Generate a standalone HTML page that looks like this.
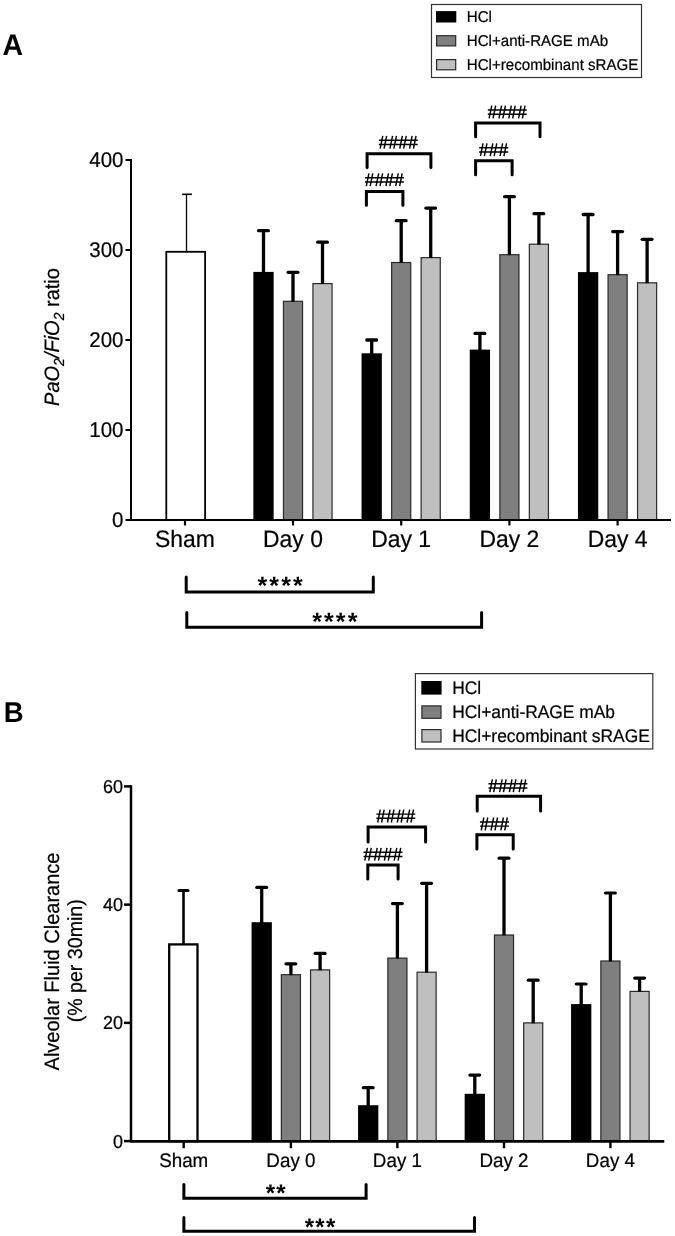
<!DOCTYPE html>
<html><head><meta charset="utf-8"><style>
html,body{margin:0;padding:0;background:#fff;}
svg{display:block;will-change:transform;}
text{font-family:"Liberation Sans", sans-serif;fill:#000;stroke:#000;stroke-width:0.22px;text-rendering:geometricPrecision;}
</style></head><body>
<svg width="675" height="1236" viewBox="0 0 675 1236">
<rect x="0" y="0" width="675" height="1236" fill="#fff"/>
<text transform="translate(185,547) scale(1,1.04)" font-size="22.9" text-anchor="middle" font-weight="normal" font-style="normal" >Sham</text>
<text transform="translate(293,547) scale(1,1.04)" font-size="22.9" text-anchor="middle" font-weight="normal" font-style="normal" >Day 0</text>
<text transform="translate(401.2,547) scale(1,1.04)" font-size="22.9" text-anchor="middle" font-weight="normal" font-style="normal" >Day 1</text>
<text transform="translate(509.4,547) scale(1,1.04)" font-size="22.9" text-anchor="middle" font-weight="normal" font-style="normal" >Day 2</text>
<text transform="translate(617.6,547) scale(1,1.04)" font-size="22.9" text-anchor="middle" font-weight="normal" font-style="normal" >Day 4</text>
<rect x="166.3" y="251.8" width="38.8" height="268.2" fill="#fff" stroke="#000" stroke-width="1.8"/>
<line x1="186.5" y1="251.8" x2="186.5" y2="194.3" stroke="#000" stroke-width="1.3" stroke-linecap="butt"/>
<line x1="182.2" y1="194.3" x2="191.9" y2="194.3" stroke="#000" stroke-width="1.6" stroke-linecap="butt"/>
<rect x="253.35" y="271.9" width="20.3" height="248.10000000000002" fill="#000" stroke="none" stroke-width="0"/>
<line x1="263.5" y1="272.9" x2="263.5" y2="230.7" stroke="#000" stroke-width="3.3" stroke-linecap="butt"/>
<line x1="258.65" y1="230.7" x2="268.35" y2="230.7" stroke="#000" stroke-width="3.3" stroke-linecap="round"/>
<rect x="283.45000000000005" y="301.3" width="19.1" height="218.70000000000002" fill="#7f7f7f" stroke="#2a2a2a" stroke-width="1.2"/>
<line x1="293.0" y1="301.7" x2="293.0" y2="272.3" stroke="#000" stroke-width="3.3" stroke-linecap="butt"/>
<line x1="288.15" y1="272.3" x2="297.85" y2="272.3" stroke="#000" stroke-width="3.3" stroke-linecap="round"/>
<rect x="312.95000000000005" y="283.6" width="19.1" height="236.4" fill="#bfbfbf" stroke="#2a2a2a" stroke-width="1.2"/>
<line x1="322.5" y1="284" x2="322.5" y2="242.2" stroke="#000" stroke-width="3.3" stroke-linecap="butt"/>
<line x1="317.65" y1="242.2" x2="327.35" y2="242.2" stroke="#000" stroke-width="3.3" stroke-linecap="round"/>
<rect x="361.55" y="353.3" width="20.3" height="166.7" fill="#000" stroke="none" stroke-width="0"/>
<line x1="371.7" y1="354.3" x2="371.7" y2="340" stroke="#000" stroke-width="3.3" stroke-linecap="butt"/>
<line x1="366.84999999999997" y1="340" x2="376.55" y2="340" stroke="#000" stroke-width="3.3" stroke-linecap="round"/>
<rect x="391.65000000000003" y="262.5" width="19.1" height="257.5" fill="#7f7f7f" stroke="#2a2a2a" stroke-width="1.2"/>
<line x1="401.2" y1="262.9" x2="401.2" y2="220.7" stroke="#000" stroke-width="3.3" stroke-linecap="butt"/>
<line x1="396.34999999999997" y1="220.7" x2="406.05" y2="220.7" stroke="#000" stroke-width="3.3" stroke-linecap="round"/>
<rect x="421.15000000000003" y="257.6" width="19.1" height="262.4" fill="#bfbfbf" stroke="#2a2a2a" stroke-width="1.2"/>
<line x1="430.7" y1="258" x2="430.7" y2="208.1" stroke="#000" stroke-width="3.3" stroke-linecap="butt"/>
<line x1="425.84999999999997" y1="208.1" x2="435.55" y2="208.1" stroke="#000" stroke-width="3.3" stroke-linecap="round"/>
<rect x="469.75" y="349.6" width="20.3" height="170.39999999999998" fill="#000" stroke="none" stroke-width="0"/>
<line x1="479.9" y1="350.6" x2="479.9" y2="333.4" stroke="#000" stroke-width="3.3" stroke-linecap="butt"/>
<line x1="475.04999999999995" y1="333.4" x2="484.75" y2="333.4" stroke="#000" stroke-width="3.3" stroke-linecap="round"/>
<rect x="499.85" y="254.7" width="19.1" height="265.29999999999995" fill="#7f7f7f" stroke="#2a2a2a" stroke-width="1.2"/>
<line x1="509.4" y1="255.1" x2="509.4" y2="196.7" stroke="#000" stroke-width="3.3" stroke-linecap="butt"/>
<line x1="504.54999999999995" y1="196.7" x2="514.25" y2="196.7" stroke="#000" stroke-width="3.3" stroke-linecap="round"/>
<rect x="529.35" y="244.2" width="19.1" height="275.79999999999995" fill="#bfbfbf" stroke="#2a2a2a" stroke-width="1.2"/>
<line x1="538.9" y1="244.6" x2="538.9" y2="213.7" stroke="#000" stroke-width="3.3" stroke-linecap="butt"/>
<line x1="534.05" y1="213.7" x2="543.75" y2="213.7" stroke="#000" stroke-width="3.3" stroke-linecap="round"/>
<rect x="577.95" y="272.1" width="20.3" height="247.89999999999998" fill="#000" stroke="none" stroke-width="0"/>
<line x1="588.1" y1="273.1" x2="588.1" y2="214.5" stroke="#000" stroke-width="3.3" stroke-linecap="butt"/>
<line x1="583.25" y1="214.5" x2="592.95" y2="214.5" stroke="#000" stroke-width="3.3" stroke-linecap="round"/>
<rect x="608.0500000000001" y="274.70000000000005" width="19.1" height="245.29999999999998" fill="#7f7f7f" stroke="#2a2a2a" stroke-width="1.2"/>
<line x1="617.6" y1="275.1" x2="617.6" y2="231.6" stroke="#000" stroke-width="3.3" stroke-linecap="butt"/>
<line x1="612.75" y1="231.6" x2="622.45" y2="231.6" stroke="#000" stroke-width="3.3" stroke-linecap="round"/>
<rect x="637.5500000000001" y="282.8" width="19.1" height="237.20000000000002" fill="#bfbfbf" stroke="#2a2a2a" stroke-width="1.2"/>
<line x1="647.1" y1="283.2" x2="647.1" y2="239.3" stroke="#000" stroke-width="3.3" stroke-linecap="butt"/>
<line x1="642.25" y1="239.3" x2="651.95" y2="239.3" stroke="#000" stroke-width="3.3" stroke-linecap="round"/>
<path d="M367.1 167.4 L367.1 153.8 L430.9 153.8 L430.9 167.4" fill="none" stroke="#000" stroke-width="3.0" stroke-linecap="round" stroke-linejoin="miter"/>
<path d="M382.75 135.80L380.15 148.60M386.65 135.80L384.05 148.60M392.55 135.80L389.95 148.60M396.45 135.80L393.85 148.60M402.35 135.80L399.75 148.60M406.25 135.80L403.65 148.60M412.15 135.80L409.55 148.60M416.05 135.80L413.45 148.60M378.85 140.20L417.75 140.20M378.85 144.40L417.75 144.40" fill="none" stroke="#000" stroke-width="1.45" stroke-linecap="butt" stroke-linejoin="miter"/>
<path d="M366.4 205.2 L366.4 191.4 L402.9 191.4 L402.9 205.2" fill="none" stroke="#000" stroke-width="3.0" stroke-linecap="round" stroke-linejoin="miter"/>
<path d="M368.90 173.30L366.30 186.10M372.80 173.30L370.20 186.10M378.70 173.30L376.10 186.10M382.60 173.30L380.00 186.10M388.50 173.30L385.90 186.10M392.40 173.30L389.80 186.10M398.30 173.30L395.70 186.10M402.20 173.30L399.60 186.10M365.00 177.70L403.90 177.70M365.00 181.90L403.90 181.90" fill="none" stroke="#000" stroke-width="1.45" stroke-linecap="butt" stroke-linejoin="miter"/>
<path d="M475.6 136.7 L475.6 123 L540 123 L540 136.7" fill="none" stroke="#000" stroke-width="3.0" stroke-linecap="round" stroke-linejoin="miter"/>
<path d="M491.75 105.60L489.15 118.40M495.65 105.60L493.05 118.40M501.55 105.60L498.95 118.40M505.45 105.60L502.85 118.40M511.35 105.60L508.75 118.40M515.25 105.60L512.65 118.40M521.15 105.60L518.55 118.40M525.05 105.60L522.45 118.40M487.85 110.00L526.75 110.00M487.85 114.20L526.75 114.20" fill="none" stroke="#000" stroke-width="1.45" stroke-linecap="butt" stroke-linejoin="miter"/>
<path d="M475.6 174.8 L475.6 160.7 L512.1 160.7 L512.1 174.8" fill="none" stroke="#000" stroke-width="3.0" stroke-linecap="round" stroke-linejoin="miter"/>
<path d="M483.05 143.40L480.45 156.20M486.95 143.40L484.35 156.20M492.85 143.40L490.25 156.20M496.75 143.40L494.15 156.20M502.65 143.40L500.05 156.20M506.55 143.40L503.95 156.20M479.15 147.80L508.25 147.80M479.15 152.00L508.25 152.00" fill="none" stroke="#000" stroke-width="1.45" stroke-linecap="butt" stroke-linejoin="miter"/>
<path d="M186.2 577 L186.2 592 L373.3 592 L373.3 577" fill="none" stroke="#000" stroke-width="3.0" stroke-linecap="round" stroke-linejoin="miter"/>
<text transform="translate(281.2,594.1) scale(1,1)" font-size="25" text-anchor="middle" font-weight="bold" font-style="normal" letter-spacing="2.1" style="stroke:none">****</text>
<path d="M186.8 612.4 L186.8 627.2 L481.6 627.2 L481.6 612.4" fill="none" stroke="#000" stroke-width="3.0" stroke-linecap="round" stroke-linejoin="miter"/>
<text transform="translate(335.8,630.1) scale(1,1)" font-size="25" text-anchor="middle" font-weight="bold" font-style="normal" letter-spacing="2.1" style="stroke:none">****</text>
<text transform="translate(59,337) rotate(-90) scale(1,1.04)" font-size="20" text-anchor="middle"><tspan font-style="italic">PaO</tspan><tspan font-size="14" dy="5" font-style="italic">2</tspan><tspan dy="-5" font-style="italic">/FiO</tspan><tspan font-size="14" dy="5" font-style="italic">2</tspan><tspan dy="-5"> ratio</tspan></text>
<rect x="431.5" y="4.5" width="210" height="73" fill="#fff" stroke="#333" stroke-width="1.2"/>
<rect x="436" y="11.1" width="20.3" height="11.4" fill="#000" stroke="none" stroke-width="0"/>
<text transform="translate(466.8,22.1) scale(1,1.04)" font-size="15.1" text-anchor="start" font-weight="normal" font-style="normal" >HCl</text>
<rect x="436.6" y="35.7" width="19.1" height="10.2" fill="#7f7f7f" stroke="#2a2a2a" stroke-width="1.2"/>
<text transform="translate(466.8,46.1) scale(1,1.04)" font-size="15.1" text-anchor="start" font-weight="normal" font-style="normal" >HCl+anti-RAGE mAb</text>
<rect x="436.6" y="59.6" width="19.1" height="10.2" fill="#bfbfbf" stroke="#2a2a2a" stroke-width="1.2"/>
<text transform="translate(466.8,70) scale(1,1.04)" font-size="15.1" text-anchor="start" font-weight="normal" font-style="normal" >HCl+recombinant sRAGE</text>
<text transform="translate(2.5,55) scale(1,1.04)" font-size="28.5" text-anchor="start" font-weight="bold" font-style="normal" style="stroke:none">A</text>
<text transform="translate(183.7,1167) scale(1,1.04)" font-size="18.8" text-anchor="middle" font-weight="normal" font-style="normal" >Sham</text>
<text transform="translate(290.9,1167) scale(1,1.04)" font-size="18.8" text-anchor="middle" font-weight="normal" font-style="normal" >Day 0</text>
<text transform="translate(397.4,1167) scale(1,1.04)" font-size="18.8" text-anchor="middle" font-weight="normal" font-style="normal" >Day 1</text>
<text transform="translate(504,1167) scale(1,1.04)" font-size="18.8" text-anchor="middle" font-weight="normal" font-style="normal" >Day 2</text>
<text transform="translate(610.4,1167) scale(1,1.04)" font-size="18.8" text-anchor="middle" font-weight="normal" font-style="normal" >Day 4</text>
<rect x="169.2" y="944.4" width="28.3" height="196.69999999999993" fill="#fff" stroke="#000" stroke-width="2.3"/>
<line x1="183.5" y1="944.4" x2="183.5" y2="890.4" stroke="#000" stroke-width="2.6" stroke-linecap="butt"/>
<line x1="179" y1="890.4" x2="188" y2="890.4" stroke="#000" stroke-width="3" stroke-linecap="round"/>
<rect x="251.54999999999998" y="922.2" width="20.3" height="218.89999999999986" fill="#000" stroke="none" stroke-width="0"/>
<line x1="261.7" y1="923.2" x2="261.7" y2="887.4" stroke="#000" stroke-width="3.3" stroke-linecap="butt"/>
<line x1="256.8" y1="887.4" x2="266.59999999999997" y2="887.4" stroke="#000" stroke-width="3.2" stroke-linecap="round"/>
<rect x="281.35" y="974.7" width="19.1" height="166.3999999999999" fill="#7f7f7f" stroke="#2a2a2a" stroke-width="1.2"/>
<line x1="290.9" y1="975.1" x2="290.9" y2="963.8" stroke="#000" stroke-width="3.3" stroke-linecap="butt"/>
<line x1="286.0" y1="963.8" x2="295.79999999999995" y2="963.8" stroke="#000" stroke-width="3.2" stroke-linecap="round"/>
<rect x="310.55" y="969.9" width="19.1" height="171.19999999999996" fill="#bfbfbf" stroke="#2a2a2a" stroke-width="1.2"/>
<line x1="320.09999999999997" y1="970.3" x2="320.09999999999997" y2="953.4" stroke="#000" stroke-width="3.3" stroke-linecap="butt"/>
<line x1="315.2" y1="953.4" x2="324.99999999999994" y2="953.4" stroke="#000" stroke-width="3.2" stroke-linecap="round"/>
<rect x="358.05" y="1105.2" width="20.3" height="35.899999999999864" fill="#000" stroke="none" stroke-width="0"/>
<line x1="368.2" y1="1106.2" x2="368.2" y2="1087.7" stroke="#000" stroke-width="3.3" stroke-linecap="butt"/>
<line x1="363.3" y1="1087.7" x2="373.09999999999997" y2="1087.7" stroke="#000" stroke-width="3.2" stroke-linecap="round"/>
<rect x="387.85" y="958.1" width="19.1" height="182.99999999999991" fill="#7f7f7f" stroke="#2a2a2a" stroke-width="1.2"/>
<line x1="397.4" y1="958.5" x2="397.4" y2="903.6" stroke="#000" stroke-width="3.3" stroke-linecap="butt"/>
<line x1="392.5" y1="903.6" x2="402.29999999999995" y2="903.6" stroke="#000" stroke-width="3.2" stroke-linecap="round"/>
<rect x="417.05" y="972.2" width="19.1" height="168.8999999999999" fill="#bfbfbf" stroke="#2a2a2a" stroke-width="1.2"/>
<line x1="426.59999999999997" y1="972.6" x2="426.59999999999997" y2="883.3" stroke="#000" stroke-width="3.3" stroke-linecap="butt"/>
<line x1="421.7" y1="883.3" x2="431.49999999999994" y2="883.3" stroke="#000" stroke-width="3.2" stroke-linecap="round"/>
<rect x="464.65000000000003" y="1093.8" width="20.3" height="47.299999999999955" fill="#000" stroke="none" stroke-width="0"/>
<line x1="474.8" y1="1094.8" x2="474.8" y2="1075.1" stroke="#000" stroke-width="3.3" stroke-linecap="butt"/>
<line x1="469.90000000000003" y1="1075.1" x2="479.7" y2="1075.1" stroke="#000" stroke-width="3.2" stroke-linecap="round"/>
<rect x="494.45000000000005" y="935.0" width="19.1" height="206.09999999999994" fill="#7f7f7f" stroke="#2a2a2a" stroke-width="1.2"/>
<line x1="504.0" y1="935.4" x2="504.0" y2="858.2" stroke="#000" stroke-width="3.3" stroke-linecap="butt"/>
<line x1="499.1" y1="858.2" x2="508.9" y2="858.2" stroke="#000" stroke-width="3.2" stroke-linecap="round"/>
<rect x="523.6500000000001" y="1022.9" width="19.1" height="118.19999999999996" fill="#bfbfbf" stroke="#2a2a2a" stroke-width="1.2"/>
<line x1="533.2" y1="1023.3" x2="533.2" y2="980.2" stroke="#000" stroke-width="3.3" stroke-linecap="butt"/>
<line x1="528.3000000000001" y1="980.2" x2="538.1" y2="980.2" stroke="#000" stroke-width="3.2" stroke-linecap="round"/>
<rect x="571.05" y="1004.1" width="20.3" height="136.9999999999999" fill="#000" stroke="none" stroke-width="0"/>
<line x1="581.1999999999999" y1="1005.1" x2="581.1999999999999" y2="984" stroke="#000" stroke-width="3.3" stroke-linecap="butt"/>
<line x1="576.3" y1="984" x2="586.0999999999999" y2="984" stroke="#000" stroke-width="3.2" stroke-linecap="round"/>
<rect x="600.85" y="961.0" width="19.1" height="180.09999999999994" fill="#7f7f7f" stroke="#2a2a2a" stroke-width="1.2"/>
<line x1="610.4" y1="961.4" x2="610.4" y2="893" stroke="#000" stroke-width="3.3" stroke-linecap="butt"/>
<line x1="605.5" y1="893" x2="615.3" y2="893" stroke="#000" stroke-width="3.2" stroke-linecap="round"/>
<rect x="630.0500000000001" y="991.4" width="19.1" height="149.69999999999996" fill="#bfbfbf" stroke="#2a2a2a" stroke-width="1.2"/>
<line x1="639.6" y1="991.8" x2="639.6" y2="978.1" stroke="#000" stroke-width="3.3" stroke-linecap="butt"/>
<line x1="634.7" y1="978.1" x2="644.5" y2="978.1" stroke="#000" stroke-width="3.2" stroke-linecap="round"/>
<path d="M368.1 841.9 L368.1 827 L425.6 827 L425.6 841.9" fill="none" stroke="#000" stroke-width="3.0" stroke-linecap="round" stroke-linejoin="miter"/>
<path d="M380.25 809.70L377.65 822.50M384.15 809.70L381.55 822.50M390.05 809.70L387.45 822.50M393.95 809.70L391.35 822.50M399.85 809.70L397.25 822.50M403.75 809.70L401.15 822.50M409.65 809.70L407.05 822.50M413.55 809.70L410.95 822.50M376.35 814.10L415.25 814.10M376.35 818.30L415.25 818.30" fill="none" stroke="#000" stroke-width="1.45" stroke-linecap="butt" stroke-linejoin="miter"/>
<path d="M367.8 878.9 L367.8 865.1 L398.1 865.1 L398.1 878.9" fill="none" stroke="#000" stroke-width="3.0" stroke-linecap="round" stroke-linejoin="miter"/>
<path d="M367.40 847.80L364.80 860.60M371.30 847.80L368.70 860.60M377.20 847.80L374.60 860.60M381.10 847.80L378.50 860.60M387.00 847.80L384.40 860.60M390.90 847.80L388.30 860.60M396.80 847.80L394.20 860.60M400.70 847.80L398.10 860.60M363.50 852.20L402.40 852.20M363.50 856.40L402.40 856.40" fill="none" stroke="#000" stroke-width="1.45" stroke-linecap="butt" stroke-linejoin="miter"/>
<path d="M477.2 811.1 L477.2 796.3 L540.6 796.3 L540.6 811.1" fill="none" stroke="#000" stroke-width="3.0" stroke-linecap="round" stroke-linejoin="miter"/>
<path d="M492.40 779.30L489.80 792.10M496.30 779.30L493.70 792.10M502.20 779.30L499.60 792.10M506.10 779.30L503.50 792.10M512.00 779.30L509.40 792.10M515.90 779.30L513.30 792.10M521.80 779.30L519.20 792.10M525.70 779.30L523.10 792.10M488.50 783.70L527.40 783.70M488.50 787.90L527.40 787.90" fill="none" stroke="#000" stroke-width="1.45" stroke-linecap="butt" stroke-linejoin="miter"/>
<path d="M476.9 848.9 L476.9 834.8 L513.2 834.8 L513.2 848.9" fill="none" stroke="#000" stroke-width="3.0" stroke-linecap="round" stroke-linejoin="miter"/>
<path d="M483.85 817.50L481.25 830.30M487.75 817.50L485.15 830.30M493.65 817.50L491.05 830.30M497.55 817.50L494.95 830.30M503.45 817.50L500.85 830.30M507.35 817.50L504.75 830.30M479.95 821.90L509.05 821.90M479.95 826.10L509.05 826.10" fill="none" stroke="#000" stroke-width="1.45" stroke-linecap="butt" stroke-linejoin="miter"/>
<path d="M183.9 1184.6 L183.9 1198.3 L366.1 1198.3 L366.1 1184.6" fill="none" stroke="#000" stroke-width="3.0" stroke-linecap="round" stroke-linejoin="miter"/>
<text transform="translate(276.3,1201.2) scale(1,1)" font-size="24" text-anchor="middle" font-weight="bold" font-style="normal" letter-spacing="1.3" style="stroke:none">**</text>
<path d="M183.9 1217.4 L183.9 1231.3 L474.5 1231.3 L474.5 1217.4" fill="none" stroke="#000" stroke-width="3.0" stroke-linecap="round" stroke-linejoin="miter"/>
<text transform="translate(320.6,1234.7) scale(1,1)" font-size="24" text-anchor="middle" font-weight="bold" font-style="normal" letter-spacing="1.3" style="stroke:none">***</text>
<text transform="translate(59,961.5) rotate(-90) scale(1,1.04)" font-size="20" text-anchor="middle">Alveolar Fluid Clearance</text>
<text transform="translate(81.8,960.8) rotate(-90) scale(1,1.04)" font-size="19.6" text-anchor="middle">(% per 30min)</text>
<rect x="415.4" y="673.6" width="237.4" height="75.4" fill="#fff" stroke="#333" stroke-width="1.2"/>
<rect x="421.3" y="681" width="20.3" height="13.6" fill="#000" stroke="none" stroke-width="0"/>
<text transform="translate(452.2,693.9) scale(1,1.04)" font-size="17.4" text-anchor="start" font-weight="normal" font-style="normal" >HCl</text>
<rect x="421.9" y="705.9" width="19.1" height="12.4" fill="#7f7f7f" stroke="#2a2a2a" stroke-width="1.2"/>
<text transform="translate(452.2,718.1999999999999) scale(1,1.04)" font-size="17.4" text-anchor="start" font-weight="normal" font-style="normal" >HCl+anti-RAGE mAb</text>
<rect x="421.9" y="729.6" width="19.1" height="12.4" fill="#bfbfbf" stroke="#2a2a2a" stroke-width="1.2"/>
<text transform="translate(452.2,741.9) scale(1,1.04)" font-size="17.4" text-anchor="start" font-weight="normal" font-style="normal" >HCl+recombinant sRAGE</text>
<text transform="translate(3.8,722.2) scale(1,1.04)" font-size="27.5" text-anchor="start" font-weight="bold" font-style="normal" style="stroke:none">B</text>
<line x1="131" y1="159.0" x2="131" y2="521" stroke="#000" stroke-width="2" stroke-linecap="butt"/>
<line x1="125.5" y1="520.0" x2="131" y2="520.0" stroke="#000" stroke-width="2" stroke-linecap="butt"/>
<text transform="translate(123.5,527.3) scale(1,1.04)" font-size="20.5" text-anchor="end" font-weight="normal" font-style="normal" >0</text>
<line x1="125.5" y1="430.0" x2="131" y2="430.0" stroke="#000" stroke-width="2" stroke-linecap="butt"/>
<text transform="translate(123.5,437.3) scale(1,1.04)" font-size="20.5" text-anchor="end" font-weight="normal" font-style="normal" >100</text>
<line x1="125.5" y1="340.0" x2="131" y2="340.0" stroke="#000" stroke-width="2" stroke-linecap="butt"/>
<text transform="translate(123.5,347.3) scale(1,1.04)" font-size="20.5" text-anchor="end" font-weight="normal" font-style="normal" >200</text>
<line x1="125.5" y1="250.0" x2="131" y2="250.0" stroke="#000" stroke-width="2" stroke-linecap="butt"/>
<text transform="translate(123.5,257.3) scale(1,1.04)" font-size="20.5" text-anchor="end" font-weight="normal" font-style="normal" >300</text>
<line x1="125.5" y1="160.0" x2="131" y2="160.0" stroke="#000" stroke-width="2" stroke-linecap="butt"/>
<text transform="translate(123.5,167.3) scale(1,1.04)" font-size="20.5" text-anchor="end" font-weight="normal" font-style="normal" >400</text>
<line x1="130" y1="520" x2="671" y2="520" stroke="#000" stroke-width="2" stroke-linecap="butt"/>
<line x1="185" y1="520" x2="185" y2="525.5" stroke="#000" stroke-width="2.2" stroke-linecap="butt"/>
<line x1="293" y1="520" x2="293" y2="525.5" stroke="#000" stroke-width="2.2" stroke-linecap="butt"/>
<line x1="401.2" y1="520" x2="401.2" y2="525.5" stroke="#000" stroke-width="2.2" stroke-linecap="butt"/>
<line x1="509.4" y1="520" x2="509.4" y2="525.5" stroke="#000" stroke-width="2.2" stroke-linecap="butt"/>
<line x1="617.6" y1="520" x2="617.6" y2="525.5" stroke="#000" stroke-width="2.2" stroke-linecap="butt"/>
<line x1="131" y1="785.1999999999999" x2="131" y2="1142.1" stroke="#000" stroke-width="2.5" stroke-linecap="butt"/>
<line x1="124" y1="1141.1" x2="131" y2="1141.1" stroke="#000" stroke-width="2.5" stroke-linecap="butt"/>
<text transform="translate(123,1147.5) scale(1,1.04)" font-size="18" text-anchor="end" font-weight="normal" font-style="normal" >0</text>
<line x1="124" y1="1022.8666666666666" x2="131" y2="1022.8666666666666" stroke="#000" stroke-width="2.5" stroke-linecap="butt"/>
<text transform="translate(123,1029.2666666666667) scale(1,1.04)" font-size="18" text-anchor="end" font-weight="normal" font-style="normal" >20</text>
<line x1="124" y1="904.6333333333333" x2="131" y2="904.6333333333333" stroke="#000" stroke-width="2.5" stroke-linecap="butt"/>
<text transform="translate(123,911.0333333333333) scale(1,1.04)" font-size="18" text-anchor="end" font-weight="normal" font-style="normal" >40</text>
<line x1="124" y1="786.4" x2="131" y2="786.4" stroke="#000" stroke-width="2.5" stroke-linecap="butt"/>
<text transform="translate(123,792.8) scale(1,1.04)" font-size="18" text-anchor="end" font-weight="normal" font-style="normal" >60</text>
<line x1="130" y1="1141.3999999999999" x2="664.3" y2="1141.3999999999999" stroke="#000" stroke-width="2.9" stroke-linecap="butt"/>
<line x1="183.7" y1="1141.1" x2="183.7" y2="1148.1999999999998" stroke="#000" stroke-width="2.4" stroke-linecap="butt"/>
<line x1="290.9" y1="1141.1" x2="290.9" y2="1148.1999999999998" stroke="#000" stroke-width="2.4" stroke-linecap="butt"/>
<line x1="397.4" y1="1141.1" x2="397.4" y2="1148.1999999999998" stroke="#000" stroke-width="2.4" stroke-linecap="butt"/>
<line x1="504" y1="1141.1" x2="504" y2="1148.1999999999998" stroke="#000" stroke-width="2.4" stroke-linecap="butt"/>
<line x1="610.4" y1="1141.1" x2="610.4" y2="1148.1999999999998" stroke="#000" stroke-width="2.4" stroke-linecap="butt"/>
</svg>
</body></html>
